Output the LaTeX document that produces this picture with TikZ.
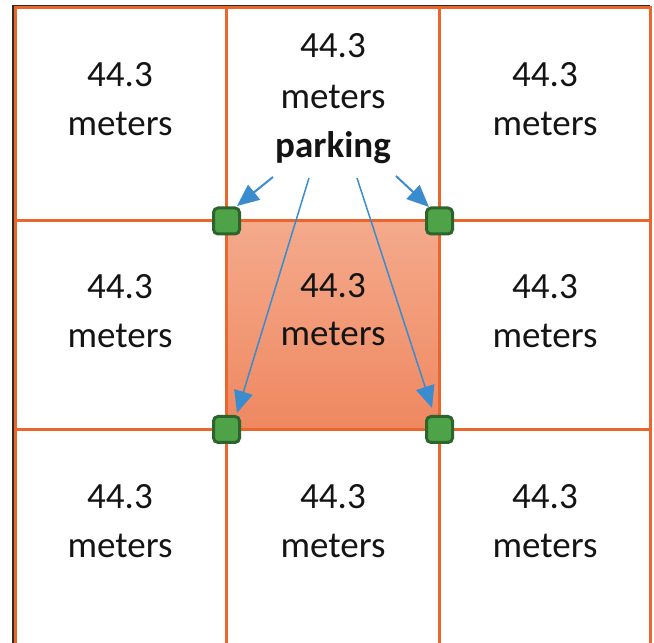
\documentclass[tikz,border=0pt]{standalone}
\usepackage{fontspec}
\setmainfont{Carlito}
\usetikzlibrary{arrows.meta}
\definecolor{gridor}{RGB}{234,102,44}
\definecolor{celltop}{RGB}{244,170,140}
\definecolor{cellbot}{RGB}{239,136,96}
\definecolor{sqfill}{RGB}{78,162,72}
\definecolor{sqdraw}{RGB}{44,100,44}
\definecolor{arrblue}{RGB}{58,140,206}
\definecolor{shadowc}{RGB}{50,40,35}
\tikzset{
  gridline/.style={draw=gridor, line width=3pt},
  lbl/.style={anchor=base, inner sep=0pt, font=\fontsize{37}{44}\selectfont, text=black!92},
  corner/.style={draw=sqdraw, fill=sqfill, line width=3pt, rounded corners=4.5pt, minimum size=26pt, inner sep=0pt},
  pointer/.style={draw=arrblue, -{Triangle[length=22pt,width=19pt]}},
}
\begin{document}
\begin{tikzpicture}[x=1pt,y=1pt]
\useasboundingbox (0,0) rectangle (654,643);
% highlighted centre cell
\shade[top color=celltop, bottom color=cellbot] (226.5,213.5) rectangle (439.5,422);
% outer shadow edge
\draw[shadowc, line width=1.6pt] (12.8,-2) -- (12.8,637.3) -- (650,637.3);
% grid
\draw[gridline] (15,-1.5) rectangle (650,635);
\draw[gridline] (226.5,-2) -- (226.5,635);
\draw[gridline] (439.5,-2) -- (439.5,635);
\draw[gridline] (15,422) -- (650,422);
\draw[gridline] (15,213.5) -- (650,213.5);
% labels
\node[lbl] (a1) at (120,556) {44.3};
\node[lbl] (b1) at (120,507) {meters};
\node[lbl] (a2) at (333,585) {44.3};
\node[lbl] (b2) at (333,534) {meters};
\node[lbl, font=\fontsize{37}{44}\selectfont\bfseries] (park) at (333,485) {parking};
\node[lbl] (a3) at (545,556) {44.3};
\node[lbl] (b3) at (545,507) {meters};
\node[lbl] (a4) at (120,344) {44.3};
\node[lbl] (b4) at (120,295) {meters};
\node[lbl] (a5) at (333,345) {44.3};
\node[lbl] (b5) at (333,297) {meters};
\node[lbl] (a6) at (545,344) {44.3};
\node[lbl] (b6) at (545,295) {meters};
\node[lbl] (a7) at (120,134) {44.3};
\node[lbl] (b7) at (120,85) {meters};
\node[lbl] (a8) at (333,134) {44.3};
\node[lbl] (b8) at (333,85) {meters};
\node[lbl] (a9) at (545,134) {44.3};
\node[lbl] (b9) at (545,85) {meters};
% corner markers
\node[corner] (nw) at (226.5,422) {};
\node[corner] (ne) at (439.5,422) {};
\node[corner] (sw) at (226.5,213.5) {};
\node[corner] (se) at (439.5,213.5) {};
% arrow end points
\coordinate (s1) at (273,466);
\coordinate (t1) at (237,437);
\coordinate (s2) at (396,467);
\coordinate (t2) at (429,436);
\coordinate (s3) at (309,465);
\coordinate (t3) at (237,230);
\coordinate (s4) at (357,465);
\coordinate (t4) at (432,235);
\draw[pointer, line width=2pt] (s1) -- (t1);
\draw[pointer, line width=2pt] (s2) -- (t2);
\draw[pointer, line width=1.5pt] (s3) -- (t3);
\draw[pointer, line width=1.5pt] (s4) -- (t4);
\end{tikzpicture}
\end{document}
